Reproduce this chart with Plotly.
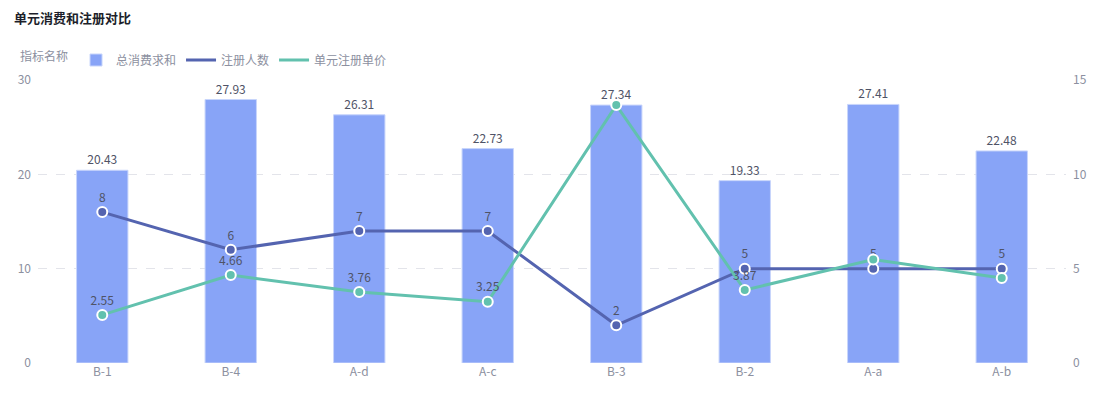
import plotly.graph_objects as go

# data
categories = ['B-1', 'B-4', 'A-d', 'A-c', 'B-3', 'B-2', 'A-a', 'A-b']
total_spend = [20.43, 27.93, 26.31, 22.73, 27.34, 19.33, 27.41, 22.48]
registrations = [8, 6, 7, 7, 2, 5, 5, 5]
unit_price = [2.55, 4.66, 3.76, 3.25, 13.67, 3.87, 5.48, 4.50]
# labels hidden in the reference where they overlap
price_labels = ['2.55', '4.66', '3.76', '3.25', '', '3.87', '', '']

FONT = 'Noto Sans CJK SC, Noto Sans, sans-serif'
BAR_C = '#88a4f7'
BLUE_C = '#5464b0'
GREEN_C = '#62c1ae'
LABEL_C = '#4f5366'
TICK_C = '#8c90a0'

# the html page has an 8px body margin, so the figure is sized to fit inside it
W, H = 1092, 392

fig = go.Figure()
fig.add_trace(go.Bar(x=categories,
                     y=total_spend,
                     name='总消费求和',
                     marker=dict(color=BAR_C, line=dict(color='#c8d5fb', width=1)),
                     text=[f'{v:.2f}' for v in total_spend],
                     textposition='outside',
                     textfont=dict(size=12, color=LABEL_C),
                     cliponaxis=False,
                     yaxis='y'
                     )
              )
fig.add_trace(go.Scatter(x=categories,
                         y=registrations,
                         name='注册人数',
                         showlegend=False,
                         mode='lines+markers+text',
                         line=dict(color=BLUE_C, width=3),
                         marker=dict(size=10, color=BLUE_C, line=dict(color='white', width=2)),
                         text=[str(v) for v in registrations],
                         textposition='top center',
                         textfont=dict(size=12, color=LABEL_C),
                         cliponaxis=False,
                         yaxis='y2'
                         )
              )
fig.add_trace(go.Scatter(x=categories,
                         y=unit_price,
                         name='单元注册单价',
                         showlegend=False,
                         mode='lines+markers+text',
                         line=dict(color=GREEN_C, width=3),
                         marker=dict(size=10, color=GREEN_C, line=dict(color='white', width=2)),
                         text=price_labels,
                         textposition='top center',
                         textfont=dict(size=12, color=LABEL_C),
                         cliponaxis=False,
                         yaxis='y2'
                         )
              )
# legend-only entries: short plain lines like the reference legend
for name, color in [('注册人数', BLUE_C), ('单元注册单价', GREEN_C)]:
    fig.add_trace(go.Scatter(x=[None], y=[None], name=name, mode='lines',
                             line=dict(color=color, width=3), yaxis='y2',
                             hoverinfo='skip'))

fig.update_layout(width=W, height=H,
                  margin=dict(l=30, r=34, t=72, b=37, autoexpand=False),
                  paper_bgcolor='white',
                  plot_bgcolor='white',
                  font=dict(family=FONT, size=12, color=TICK_C),
                  title=dict(text='<b>单元消费和注册对比</b>',
                             x=6 / W, xanchor='left', xref='container',
                             y=1 - 10 / H, yanchor='middle', yref='container',
                             font=dict(size=13, color='#1d1f2b')),
                  bargap=0.6,
                  showlegend=True,
                  legend=dict(orientation='h',
                              x=10 / W, xref='container', xanchor='left',
                              y=1 - 52 / H, yref='container', yanchor='middle',
                              title=dict(text='指标名称', side='left',
                                         font=dict(size=12, color=TICK_C)),
                              font=dict(size=12, color=TICK_C),
                              itemwidth=30,
                              traceorder='normal'),
                  xaxis=dict(showgrid=False, showline=False, ticks='', automargin=False,
                             tickfont=dict(size=12, color=TICK_C)),
                  yaxis=dict(range=[0, 30], tickvals=[0, 10, 20, 30], automargin=False,
                             showgrid=True, gridcolor='#e3e4ea', griddash='dash',
                             zeroline=False, showline=False, ticks='',
                             ticklabelstandoff=6,
                             tickfont=dict(size=12, color=TICK_C)),
                  yaxis2=dict(range=[0, 15], tickvals=[0, 5, 10, 15], automargin=False,
                              overlaying='y', side='right',
                              showgrid=False, zeroline=False, showline=False, ticks='',
                              ticklabelstandoff=6,
                              tickfont=dict(size=12, color=TICK_C))
                  )

fig.write_html("out.html")
